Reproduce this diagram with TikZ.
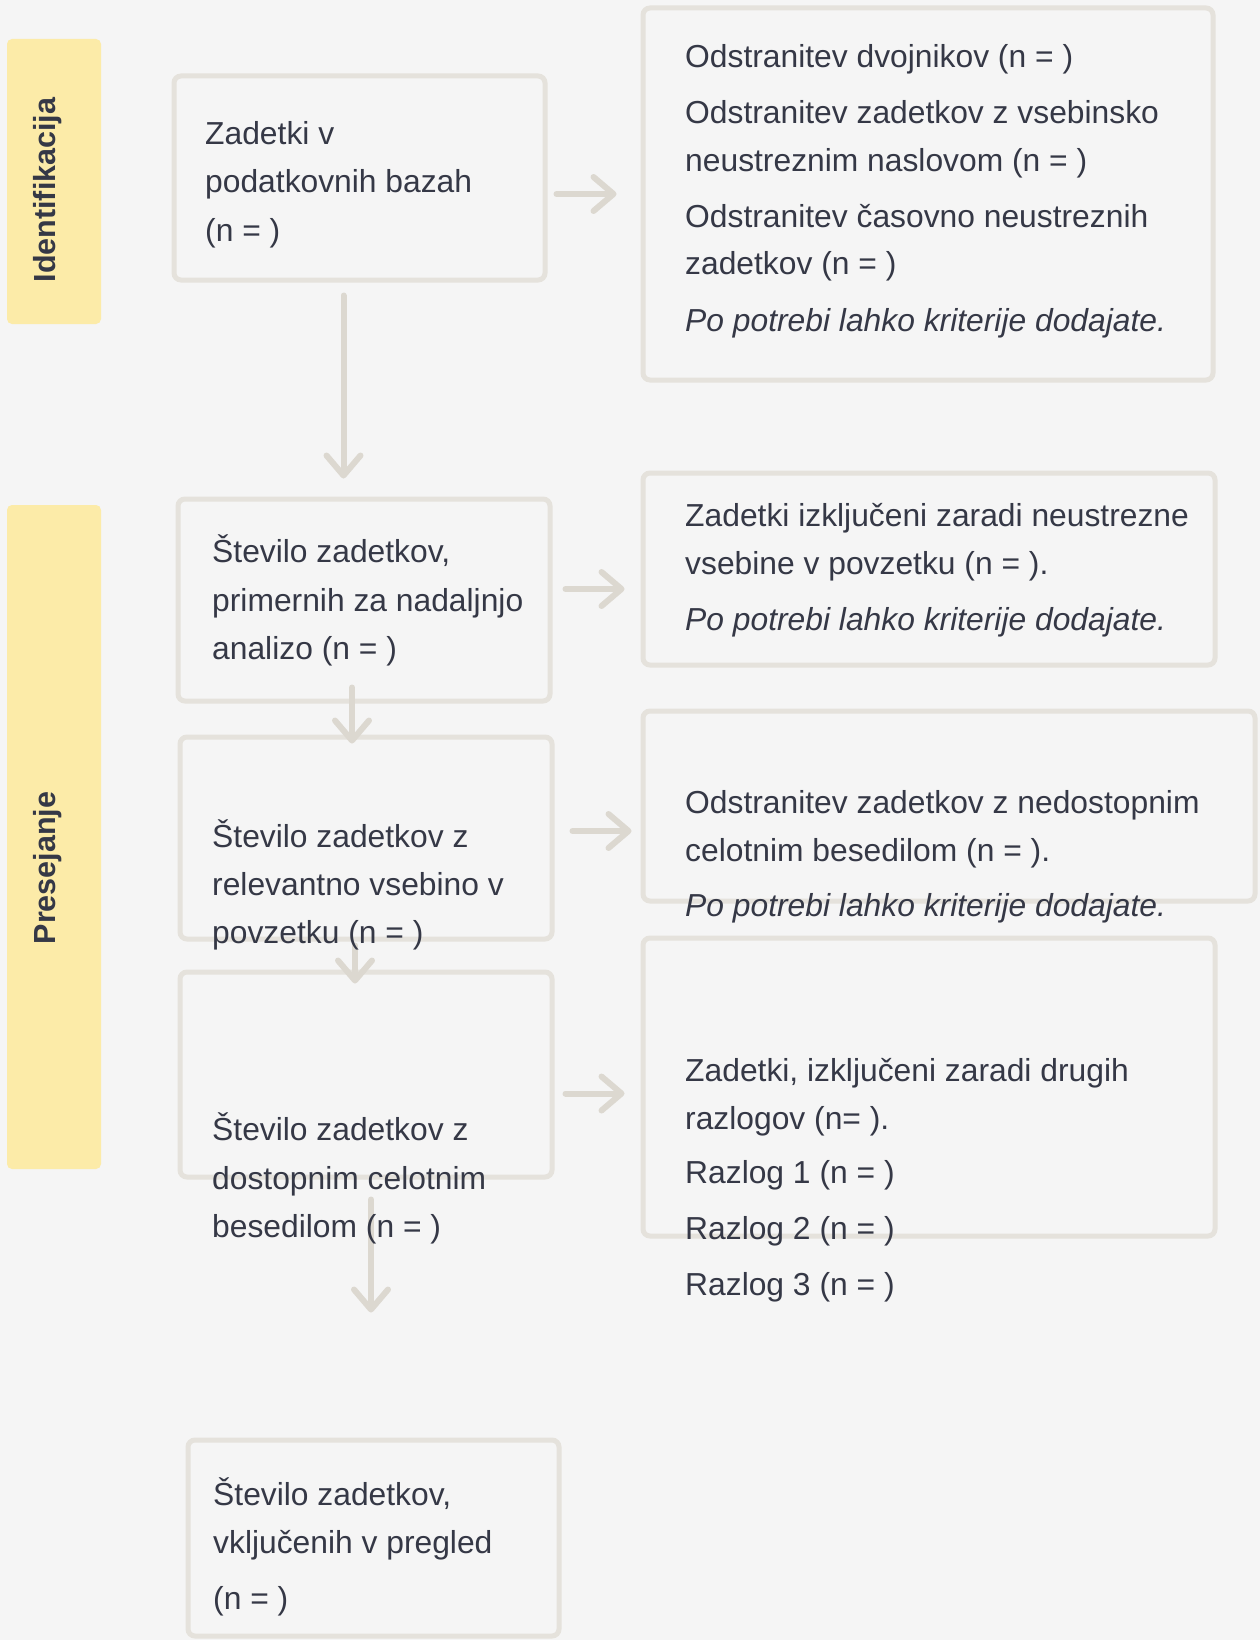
\documentclass[tikz,border=0pt]{standalone}
\usepackage{fontspec}
\setmainfont{Liberation Sans}
\usetikzlibrary{arrows.meta, positioning}
\definecolor{paper}{HTML}{F5F5F5}
\definecolor{sketch}{HTML}{E5E2DC}
\definecolor{arrowgray}{HTML}{DCD8D0}
\definecolor{marker}{HTML}{FCEBA8}
\definecolor{ink}{HTML}{353846}

\begin{document}
\begin{tikzpicture}[x=1pt, y=-1pt,
    box/.style={draw=sketch, line width=5pt, rounded corners=7pt, inner sep=0pt},
    band/.style={fill=marker, rounded corners=5pt, inner sep=0pt},
    phase/.style={rotate=90, inner sep=0pt, text=ink, font=\fontsize{30.5}{36}\selectfont\bfseries},
    txt/.style={anchor=base west, inner sep=0pt, text=ink, font=\fontsize{31.8}{38}\selectfont},
    flow/.style={draw=arrowgray, line width=6pt, line cap=round, -{Straight Barb[length=20pt, width=34pt, round]}}]

    % Background
    \fill[paper] (0,0) rectangle (1260,1640);
    \useasboundingbox (0,0) rectangle (1260,1640);

    % Phases
    \node[band, minimum width=94pt, minimum height=285pt] (ident) at (54,181.5) {};
    \node[phase] (identlbl) at (48,190) {Identifikacija};
    \node[band, minimum width=94pt, minimum height=664pt] (screen) at (54,837) {};
    \node[phase] (screenlbl) at (48,868) {Presejanje};

    % Boxes
    \node[box, minimum width=371pt, minimum height=204pt] (A) at (359.5,178) {};
    \node[box, minimum width=570pt, minimum height=372pt] (R1) at (928,194) {};
    \node[box, minimum width=372pt, minimum height=202pt] (B) at (364,600) {};
    \node[box, minimum width=572pt, minimum height=192pt] (R2) at (929,569) {};
    \node[box, minimum width=372pt, minimum height=202pt] (C) at (366,838) {};
    \node[box, minimum width=612pt, minimum height=190pt] (R3) at (949,806) {};
    \node[box, minimum width=372pt, minimum height=205pt] (D) at (366,1074.5) {};
    \node[box, minimum width=572pt, minimum height=298pt] (R4) at (929,1087) {};
    \node[box, minimum width=371pt, minimum height=196pt] (E) at (373.5,1538) {};

    % Arrows
    \draw[flow, shorten <=9pt, shorten >=24pt] (A.east |- R1.west) -- (R1.west);
    \draw[flow, shorten <=13pt, shorten >=16pt] ([yshift=11pt]B.east) -- ([yshift=11pt]B.east -| R2.west);
    \draw[flow, shorten <=18pt, shorten >=9pt] ([yshift=7pt]C.east) -- ([yshift=7pt]C.east -| R3.west);
    \draw[flow, shorten <=11pt, shorten >=16pt] ([yshift=-19pt]D.east) -- ([yshift=-19pt]D.east -| R4.west);
    \draw[flow, shorten <=13pt, shorten >=18pt] ([xshift=-16pt]A.south) -- ([xshift=-16pt]A.south |- B.north);
    \draw[flow, shorten <=-16pt, shorten >=-9pt] ([xshift=-12pt]B.south) -- ([xshift=-12pt]B.south |- C.north);
    \draw[flow, shorten <=4pt, shorten >=-14pt] ([xshift=-11pt]C.south) -- ([xshift=-11pt]C.south |- D.north);
    \draw[flow, shorten <=20pt, shorten >=125pt] ([xshift=5pt]D.south) -- ([xshift=5pt]D.south |- E.north);

    % Texts
    \foreach \y/\t [count=\i] in {145/Zadetki v, 193/podatkovnih bazah, 241/{(n = )}}
        \node[txt] (A-\i) at (205,\y) {\t};
    \foreach \y/\t [count=\i] in {68/{Odstranitev dvojnikov (n = )}, 124/Odstranitev zadetkov z vsebinsko,
        172/{neustreznim naslovom (n = )}, 227/Odstranitev časovno neustreznih, 274/{zadetkov (n = )},
        331/{\itshape Po potrebi lahko kriterije dodajate.}}
        \node[txt] (R1-\i) at (685,\y) {\t};
    \foreach \y/\t [count=\i] in {562/{Število zadetkov,}, 611/primernih za nadaljnjo, 659/{analizo (n = )}}
        \node[txt] (B-\i) at (212,\y) {\t};
    \foreach \y/\t [count=\i] in {526/Zadetki izključeni zaradi neustrezne, 574/{vsebine v povzetku (n = ).},
        630/{\itshape Po potrebi lahko kriterije dodajate.}}
        \node[txt] (R2-\i) at (685,\y) {\t};
    \foreach \y/\t [count=\i] in {847/Število zadetkov z, 895/relevantno vsebino v, 943/{povzetku (n = )}}
        \node[txt] (C-\i) at (212,\y) {\t};
    \foreach \y/\t [count=\i] in {813/Odstranitev zadetkov z nedostopnim, 861/{celotnim besedilom (n = ).},
        916/{\itshape Po potrebi lahko kriterije dodajate.}}
        \node[txt] (R3-\i) at (685,\y) {\t};
    \foreach \y/\t [count=\i] in {1140/Število zadetkov z, 1189/dostopnim celotnim, 1237/{besedilom (n = )}}
        \node[txt] (D-\i) at (212,\y) {\t};
    \foreach \y/\t [count=\i] in {1081/{Zadetki, izključeni zaradi drugih}, 1129/{razlogov (n= ).},
        1183/{Razlog 1 (n = )}, 1239/{Razlog 2 (n = )}, 1295/{Razlog 3 (n = )}}
        \node[txt] (R4-\i) at (685,\y) {\t};
    \foreach \y/\t [count=\i] in {1505/{Število zadetkov,}, 1553/vključenih v pregled, 1609/{(n = )}}
        \node[txt] (E-\i) at (213,\y) {\t};
\end{tikzpicture}
\end{document}
